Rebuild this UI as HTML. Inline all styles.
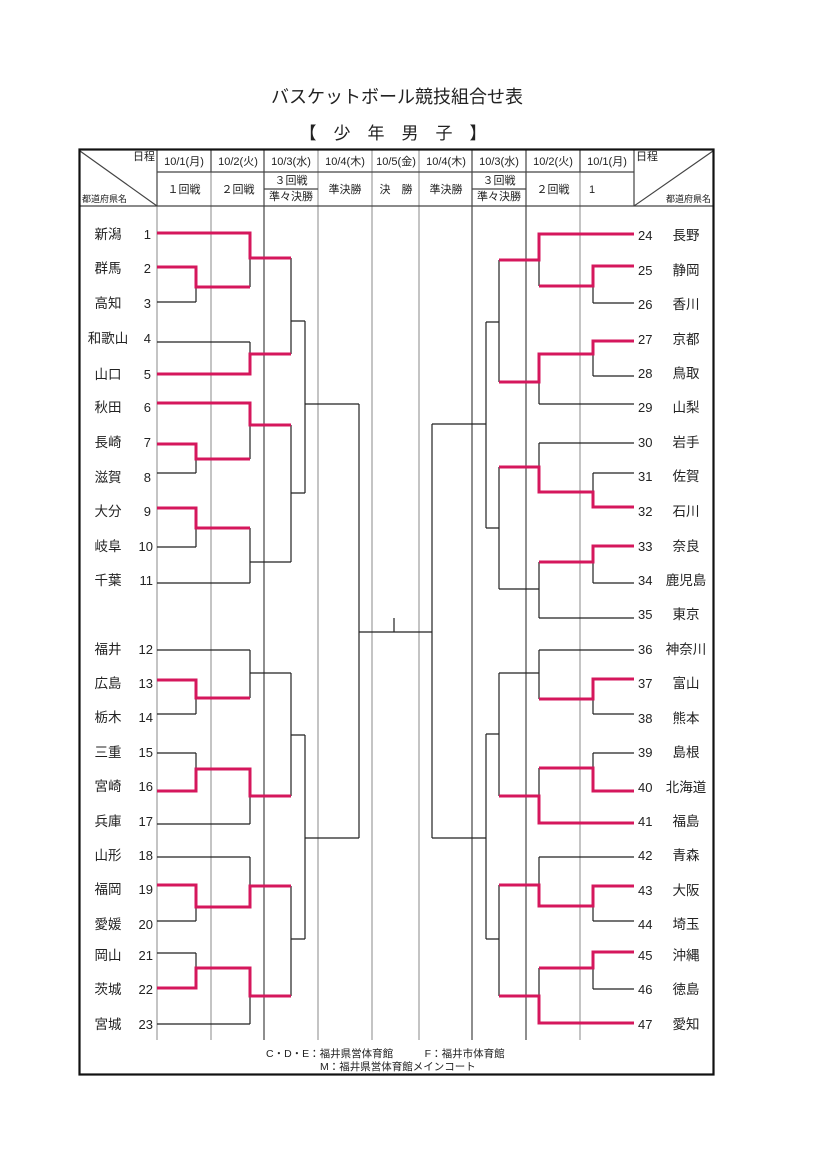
<!DOCTYPE html>
<html><head><meta charset="utf-8"><style>
html,body{margin:0;padding:0;background:#fff}
svg{display:block}
text{font-family:"Liberation Sans","Noto Sans CJK JP",sans-serif;fill:#222}
</style></head><body>
<svg width="826" height="1168" viewBox="0 0 826 1168" xmlns="http://www.w3.org/2000/svg">
<text x="397" y="103" font-size="18" text-anchor="middle">バスケットボール競技組合せ表</text>
<text x="393" y="139" font-size="17" text-anchor="middle" xml:space="preserve">【　少　年　男　子　】</text>
<!-- grid -->
<g stroke="#888" stroke-width="1" fill="none">
<path d="M157 172V1040M211 172V1040M318 149V1040M372 149V1040M419 149V1040M580 172V1040"/>
</g>
<g stroke="#444" stroke-width="1.2" fill="none">
<path d="M264 149V1040M526 149V1040M157 149V206M211 149V172M472 149V1040M634 149V206M580 149V172"/>
<path d="M157 172H634M80 206H713M264 189H318M472 189H526"/>
<path d="M80 151L157 206M634 206L713 151"/>
</g>
<rect x="79.5" y="149.5" width="634" height="925" fill="none" stroke="#111" stroke-width="2.2"/>
<g font-size="11" text-anchor="middle">
<text x="184" y="165">10/1(月)</text><text x="238" y="165">10/2(火)</text><text x="291" y="165">10/3(水)</text><text x="345" y="165">10/4(木)</text><text x="396" y="165">10/5(金)</text><text x="446" y="165">10/4(木)</text><text x="499" y="165">10/3(水)</text><text x="553" y="165">10/2(火)</text><text x="607" y="165">10/1(月)</text>
<text x="184" y="193">１回戦</text><text x="238" y="193">２回戦</text><text x="291" y="184">３回戦</text><text x="291" y="200">準々決勝</text><text x="345" y="193">準決勝</text><text x="396" y="193" xml:space="preserve">決　勝</text><text x="446" y="193">準決勝</text><text x="499" y="184">３回戦</text><text x="499" y="200">準々決勝</text><text x="553" y="193">２回戦</text><text x="592" y="193">1</text>
<text x="144" y="160">日程</text><text x="647" y="160">日程</text>
</g>
<g font-size="9"><text x="82" y="202">都道府県名</text><text x="711" y="202" text-anchor="end">都道府県名</text></g>
<!-- black bracket -->
<g stroke="#222" stroke-width="1.2" fill="none">
<path d="M157 267H196M157 302H196M157 444H196M157 473H196M157 508H196M157 547H196M157 680H196M157 714H196M157 753H196M157 791H196M157 885H196M157 921H196M157 953H196M157 988H196
M157 233H250M157 342H250M157 374H250M157 403H250M157 583H250M157 650H250M157 824H250M157 857H250M157 1024H250
M196 267V302M196 444V473M196 508V547M196 680V714M196 753V791M196 885V921M196 953V988
M196 287H250M196 459H250M196 528H250M196 698H250M196 769H250M196 907H250M196 968H250
M250 233V287M250 342V374M250 403V459M250 528V583M250 650V698M250 769V824M250 857V907M250 968V1024
M250 258H291M250 354H291M250 425H291M250 562H291M250 673H291M250 796H291M250 886H291M250 996H291
M291 258V354M291 425V562M291 673V796M291 886V996
M291 321H305M291 493H305M291 735H305M291 939H305
M305 321V493M305 735V939M305 404H359M305 838H359M359 404V838M359 632H432M394 618V632
M593 266H634M593 303H634M593 341H634M593 376H634M593 473H634M593 507H634M593 546H634M593 583H634M593 679H634M593 714H634M593 753H634M593 791H634M593 886H634M593 921H634M593 952H634M593 989H634
M539 234H634M539 404H634M539 443H634M539 618H634M539 650H634M539 823H634M539 857H634M539 1023H634
M593 266V303M593 341V376M593 473V507M593 546V583M593 679V714M593 753V791M593 886V921M593 952V989
M539 286H593M539 354H593M539 492H593M539 562H593M539 699H593M539 768H593M539 906H593M539 968H593
M539 234V286M539 354V404M539 443V492M539 562V618M539 650V699M539 768V823M539 857V906M539 968V1023
M499 260H539M499 382H539M499 467H539M499 589H539M499 673H539M499 796H539M499 885H539M499 996H539
M499 260V382M499 467V589M499 673V796M499 885V996
M486 322H499M486 528H499M486 734H499M486 939H499
M486 322V528M486 734V939M432 424H486M432 838H486M432 424V838"/>
</g>
<!-- red -->
<g stroke="#d5175c" stroke-width="3" fill="none" stroke-linejoin="miter">
<path d="M157 233H250V258H291M157 267H196V287H250M157 374H250V354H291M157 403H250V425H291M157 444H196V459H250M157 508H196V528H250
M157 680H196V698H250M157 791H196V769H250V796H291M157 885H196V907H250V886H291M157 988H196V968H250V996H291
M634 234H539V260H499M634 266H593V286H539M634 341H593V354H539V382H499M634 507H593V492H539V467H499M634 546H593V562H539
M634 679H593V699H539M634 791H593V768H539M634 823H539V796H499M634 886H593V906H539V885H499M634 952H593V968H539M634 1023H539V996H499"/>
</g>
<!-- names -->
<g font-size="13.5">
<g text-anchor="middle">
<text x="108" y="239">新潟</text><text x="108" y="273">群馬</text><text x="108" y="308">高知</text><text x="108" y="343">和歌山</text><text x="108" y="379">山口</text><text x="108" y="412">秋田</text><text x="108" y="447">長崎</text><text x="108" y="482">滋賀</text><text x="108" y="516">大分</text><text x="108" y="551">岐阜</text><text x="108" y="585">千葉</text>
<text x="108" y="654">福井</text><text x="108" y="688">広島</text><text x="108" y="722">栃木</text><text x="108" y="757">三重</text><text x="108" y="791">宮崎</text><text x="108" y="826">兵庫</text><text x="108" y="860">山形</text><text x="108" y="894">福岡</text><text x="108" y="929">愛媛</text><text x="108" y="960">岡山</text><text x="108" y="994">茨城</text><text x="108" y="1029">宮城</text>
<text x="686" y="240">長野</text><text x="686" y="275">静岡</text><text x="686" y="309">香川</text><text x="686" y="344">京都</text><text x="686" y="378">鳥取</text><text x="686" y="412">山梨</text><text x="686" y="447">岩手</text><text x="686" y="481">佐賀</text><text x="686" y="516">石川</text><text x="686" y="551">奈良</text><text x="686" y="585">鹿児島</text><text x="686" y="619">東京</text>
<text x="686" y="654">神奈川</text><text x="686" y="688">富山</text><text x="686" y="723">熊本</text><text x="686" y="757">島根</text><text x="686" y="792">北海道</text><text x="686" y="826">福島</text><text x="686" y="860">青森</text><text x="686" y="895">大阪</text><text x="686" y="929">埼玉</text><text x="686" y="960">沖縄</text><text x="686" y="994">徳島</text><text x="686" y="1029">愛知</text>
</g>
<g text-anchor="end" font-size="13">
<text x="151" y="239">1</text><text x="151" y="273">2</text><text x="151" y="308">3</text><text x="151" y="343">4</text><text x="151" y="379">5</text><text x="151" y="412">6</text><text x="151" y="447">7</text><text x="151" y="482">8</text><text x="151" y="516">9</text><text x="153" y="551">10</text><text x="153" y="585">11</text>
<text x="153" y="654">12</text><text x="153" y="688">13</text><text x="153" y="722">14</text><text x="153" y="757">15</text><text x="153" y="791">16</text><text x="153" y="826">17</text><text x="153" y="860">18</text><text x="153" y="894">19</text><text x="153" y="929">20</text><text x="153" y="960">21</text><text x="153" y="994">22</text><text x="153" y="1029">23</text>
</g>
<g font-size="13">
<text x="638" y="240">24</text><text x="638" y="275">25</text><text x="638" y="309">26</text><text x="638" y="344">27</text><text x="638" y="378">28</text><text x="638" y="412">29</text><text x="638" y="447">30</text><text x="638" y="481">31</text><text x="638" y="516">32</text><text x="638" y="551">33</text><text x="638" y="585">34</text><text x="638" y="619">35</text>
<text x="638" y="654">36</text><text x="638" y="688">37</text><text x="638" y="723">38</text><text x="638" y="757">39</text><text x="638" y="792">40</text><text x="638" y="826">41</text><text x="638" y="860">42</text><text x="638" y="895">43</text><text x="638" y="929">44</text><text x="638" y="960">45</text><text x="638" y="994">46</text><text x="638" y="1029">47</text>
</g>
</g>
<g font-size="10.5">
<text x="266" y="1057">C・D・E：福井県営体育館　　　F：福井市体育館</text>
<text x="320" y="1070">M：福井県営体育館メインコート</text>
</g>
</svg>
</body></html>
